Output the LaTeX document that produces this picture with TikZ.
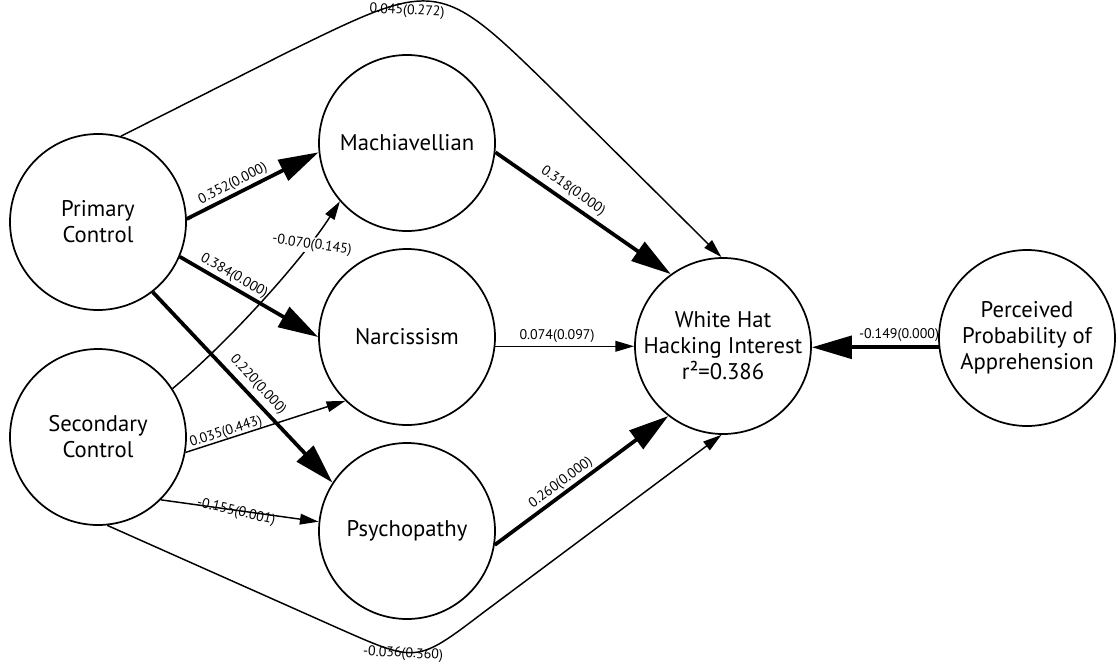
\documentclass[tikz,border=0pt]{standalone}
\usepackage{fontspec}
\setmainfont{PT Sans}
\usetikzlibrary{arrows.meta,calc}
\begin{document}
\begin{tikzpicture}[x=0.75pt,y=-0.75pt,
  latent/.style={draw,circle,line width=1.3pt,minimum size=132pt,inner sep=0pt,align=center,
    font=\fontsize{17}{19.5}\selectfont},
  thin/.style={line width=1.1pt,-{Triangle[length=14pt,width=8pt]}},
  thick/.style={line width=2.8pt,-{Triangle[length=30pt,width=17pt]}},
  lab/.style={font=\fontsize{10.5}{12}\selectfont,inner sep=1pt}]
\useasboundingbox (0,0) rectangle (1118,664);
\node[latent] (PC) at (98,222) {Primary\\Control};
\node[latent] (SC) at (98,437) {Secondary\\Control};
\node[latent] (MA) at (407,143) {Machiavellian};
\node[latent] (NA) at (407,337) {Narcissism};
\node[latent] (PS) at (407,531) {Psychopathy};
\node[latent] (WH) at (723,346) {White Hat\\Hacking Interest\\r²=0.386};
\node[latent] (PP) at (1027,338) {Perceived\\Probability of\\Apprehension};
% waypoints
\coordinate (t1) at (288,52);
\coordinate (tc) at (439,-22);
\coordinate (t2) at (558,95);
\coordinate (b1) at (340,629);
\coordinate (bc) at (417,663);
\coordinate (b2) at (484,612);
\coordinate (c1) at (228,342.5);
\coordinate (c2) at (301.6,261);
% connectors
\draw[thin] (PC.75) -- (t1) .. controls (tc) .. (t2) -- (WH.91);
\draw[thin] (SC.-84) -- (b1) .. controls (bc) .. (b2) -- (WH.-91);
\draw[thick] (PC.2.6) -- (MA.186);
\draw[thick] (PC.-23) -- (NA.180);
\draw[thick] (PC.-52) -- (PS.147);
\draw[thin] (SC.33) .. controls (c1) and (c2) .. (MA.221);
\draw[thin] (SC.-10) -- (NA.226.6);
\draw[thin] (SC.-45) -- (PS.174);
\draw[thick] (MA.-6) -- (WH.126);
\draw[thin] (NA.-6.5) -- (NA.-6.5 -| WH.west);
\draw[thick] (PS.-9) -- (WH.232);
\draw[thick] (PP.186) -- (PP.186 -| WH.east);
% labels
\node[lab,rotate=-3] (l1) at (407,11) {0.045(0.272)};
\node[lab,rotate=27] (l2) at (233,184) {0.352(0.000)};
\node[lab,rotate=-30] (l3) at (234,276) {0.384(0.000)};
\node[lab,rotate=-47] (l4) at (258,385) {0.220(0.000)};
\node[lab,rotate=-8,fill=white] (l5) at (312,245) {-0.070(0.145)};
\node[lab,rotate=17.5] (l6) at (226,432) {0.035(0.443)};
\node[lab,rotate=-13] (l7) at (236,512) {-0.155(0.001)};
\node[lab,rotate=-3] (l8) at (403,654) {-0.036(0.360)};
\node[lab,rotate=-35] (l9) at (573,191) {0.318(0.000)};
\node[lab] (l10) at (557,336) {0.074(0.097)};
\node[lab,rotate=36.5] (l11) at (561,483) {0.260(0.000)};
\node[lab] (l12) at (899,335) {-0.149(0.000)};
\end{tikzpicture}
\end{document}
